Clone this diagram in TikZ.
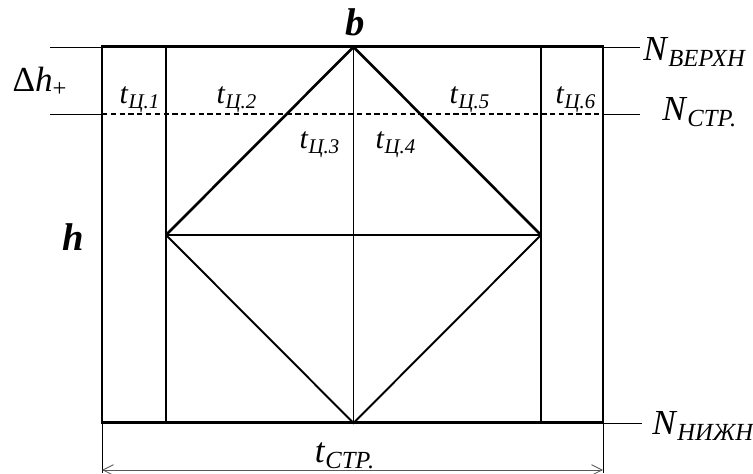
\documentclass[tikz,border=0pt]{standalone}
\usepackage{fontspec}
\setmainfont{Liberation Serif}
\usepackage{amsmath}
\usetikzlibrary{arrows.meta}

\newcommand{\tlbl}[2]{\textit{#1}\textsubscript{\textit{#2}}}

\begin{document}
\begin{tikzpicture}[every node/.style={inner sep=0pt},
  frameline/.style={line width=1.7pt},
  wallline/.style={line width=1.3pt},
  diagline/.style={line width=1.1pt},
  extline/.style={line width=0.5pt},
  lvl/.style={font=\fontsize{20}{24}\selectfont},
  pnt/.style={font=\fontsize{22}{26}\selectfont},
  cell/.style={font=\fontsize{17}{20}\selectfont}]
  \useasboundingbox (0,0) rectangle (15.06,9.48);
  \coordinate (tl) at (2.04,8.54);
  \coordinate (tr) at (12.06,8.54);
  \coordinate (bl) at (2.04,1.02);
  \coordinate (br) at (12.06,1.02);
  \coordinate (sl) at (2.04,7.20);
  \coordinate (sr) at (12.06,7.20);
  \coordinate (top) at (7.07,8.54);
  \coordinate (bot) at (7.07,1.02);
  \coordinate (hl) at (3.32,4.78);
  \coordinate (hr) at (10.82,4.78);
  \coordinate (wl1) at (3.32,8.54);
  \coordinate (wl2) at (3.32,1.02);
  \coordinate (wr1) at (10.82,8.54);
  \coordinate (wr2) at (10.82,1.02);
  \draw[frameline] (bl) rectangle (tr);
  \draw[wallline] (wl1) -- (wl2);
  \draw[wallline] (wr1) -- (wr2);
  \draw[diagline, line width=1.5pt] (hl) -- (top) -- (hr);
  \draw[diagline] (hl) -- (bot) -- (hr);
  \draw[diagline] (hl) -- (hr);
  \draw[line width=0.8pt] (top) -- (bot);
  \draw[line width=0.7pt, dash pattern=on 3pt off 2pt] (sl) -- (sr);
  \coordinate (etl) at (1.00,8.54);
  \coordinate (esl) at (1.00,7.20);
  \coordinate (etr) at (12.80,8.54);
  \coordinate (esr) at (12.80,7.20);
  \coordinate (ebr) at (12.84,1.02);
  \draw[extline] (etl) -- (tl);
  \draw[extline] (esl) -- (sl);
  \draw[extline] (tr) -- (etr);
  \draw[extline] (sr) -- (esr);
  \draw[extline] (br) -- (ebr);
  \coordinate (dl) at (2.04,0.02);
  \coordinate (dr) at (12.06,0.02);
  \draw[extline] (bl) -- (dl);
  \draw[extline] (br) -- (dr);
  \coordinate (al) at (2.04,0.08);
  \coordinate (ar) at (12.06,0.08);
  \draw[extline, gray!70!black, {Straight Barb[length=6pt,width=6pt]}-{Straight Barb[length=6pt,width=6pt]}] (al) -- (ar);
  \node[pnt] (bname) at (7.10,9.04) {\textbf{\textit{b}}};
  \node[pnt] (hname) at (1.46,4.74) {\textbf{\textit{h}}};
  \node[lvl] (dh) at (0.80,7.84) {Δ\textit{h}\textsubscript{+}};
  \node[cell] (tc1) at (2.80,7.48) {\tlbl{t}{Ц.1}};
  \node[cell] (tc2) at (4.74,7.48) {\tlbl{t}{Ц.2}};
  \node[cell] (tc3) at (6.40,6.58) {\tlbl{t}{Ц.3}};
  \node[cell] (tc4) at (7.92,6.58) {\tlbl{t}{Ц.4}};
  \node[cell] (tc5) at (9.40,7.48) {\tlbl{t}{Ц.5}};
  \node[cell] (tc6) at (11.52,7.48) {\tlbl{t}{Ц.6}};
  \node[lvl, anchor=west] (nup) at (12.86,8.44) {\tlbl{N}{ВЕРХН}};
  \node[lvl, anchor=west] (nmid) at (13.24,7.24) {\tlbl{N}{СТР.}};
  \node[lvl, anchor=west] (nlow) at (13.04,0.96) {\tlbl{N}{НИЖН}};
  \node[lvl] (tstr) at (6.90,0.36) {\tlbl{t}{СТР.}};
\end{tikzpicture}
\end{document}
